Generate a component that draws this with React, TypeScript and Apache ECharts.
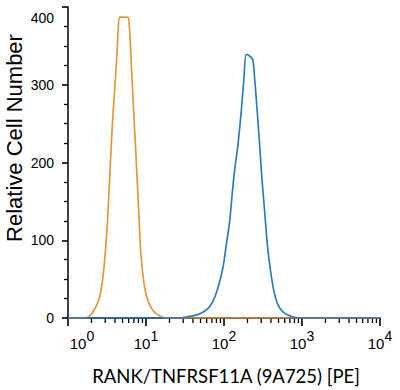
import React, { useEffect, useRef } from "react";
import * as echarts from "echarts";

// Orange histogram: [fluorescence intensity, relative cell number]
const orangeX = [1, 1.61, 1.86, 2.16, 2.51, 2.76, 2.99, 3.21, 3.37, 3.54, 3.72, 3.98, 4.23, 4.44, 4.62, 5.79, 6.1, 6.4, 6.71, 7.06, 7.43, 7.8, 8.18, 8.61, 9.51, 10.5, 12.2, 14.8, 18.9, 100, 10000];
const orangeY = [0, 0, 2, 10, 25, 47, 81, 124, 167, 210, 252, 295, 338, 377, 387, 387, 377, 338, 295, 252, 210, 167, 124, 81, 42, 23, 10, 3, 0, 0, 0];

// Blue histogram
const blueX = [1, 25, 36, 41.7, 50.8, 61.9, 71.8, 83.2, 96.6, 107, 118, 127, 136, 151, 166, 180, 193, 213, 234, 247, 267, 286, 306, 332, 360, 396, 438, 492, 570, 695, 807, 933, 10000];
const blueY = [0, 0, 2, 3, 6, 12, 21, 38, 64, 94, 124, 158, 188, 223, 265, 308, 339, 337, 332, 308, 265, 223, 180, 137, 94, 60, 34, 17, 8, 3, 1, 0, 0];

// Log-axis minor tick values
const minorTickValues = [2, 3, 4, 5, 6, 7, 8, 9, 20, 30, 40, 50, 60, 70, 80, 90, 200, 300, 400, 500, 600, 700, 800, 900, 2000, 3000, 4000, 5000, 6000, 7000, 8000, 9000];

const yTicks = [0, 100, 200, 300, 400];

const xTitle = "RANK/TNFRSF11A (9A725) [PE]";
const yTitle = "Relative Cell Number";

const zip = (xs: number[], ys: number[]) => xs.map((x, i) => [x, ys[i]]);

export default function App() {
  const ref = useRef<HTMLDivElement>(null);
  useEffect(() => {
    if (!ref.current) return;
    const chart = echarts.init(ref.current, undefined, { renderer: "svg" });
    const font = "'Liberation Sans', Arial, sans-serif";
    chart.setOption({
      animation: false,
      backgroundColor: "#ffffff",
      grid: { left: 68, right: 20, top: 7, bottom: 72 },
      xAxis: {
        type: "log",
        min: 1,
        max: 10000,
        axisLine: { show: true, lineStyle: { color: "#000", width: 1.5 } },
        axisTick: { show: true, length: 8, lineStyle: { color: "#000", width: 1.6 } },
        splitLine: { show: false },
        axisLabel: {
          margin: 10,
          color: "#000",
          formatter: (v: number) => {
            const e = Math.round(Math.log10(v));
            return e === 0 ? `{b0|10}{s|${e}}` : `{b|10}{s|${e}}`;
          },
          rich: {
            b: { fontSize: 15, fontFamily: font, color: "#000", padding: [8, 0, 0, 0] },
            b0: { fontSize: 15, fontFamily: font, color: "#000", padding: [8, 0, 0, 28] },
            s: { fontSize: 14, fontFamily: font, color: "#000", padding: [0, 0, 8, 0] },
          },
        },
      },
      yAxis: {
        type: "value",
        min: 0,
        max: 400,
        interval: 100,
        axisLine: { show: true, lineStyle: { color: "#000", width: 1.5 } },
        axisTick: { show: true, length: 6, lineStyle: { color: "#000", width: 1.6 } },
        minorTick: { show: true, splitNumber: 4, length: 4, lineStyle: { color: "#000", width: 1.3 } },
        splitLine: { show: false },
        axisLabel: {
          margin: 14,
          color: "#000",
          fontSize: 14,
          fontFamily: font,
          formatter: (v: number) => (v === yTicks[yTicks.length - 1] ? `{t|${v}}` : `${v}`),
          rich: {
            t: { fontSize: 14, fontFamily: font, color: "#000", padding: [22, 0, 0, 0] },
          },
        },
      },
      graphic: [
        {
          type: "text",
          x: 14,
          y: 138,
          rotation: Math.PI / 2,
          style: {
            text: yTitle,
            fontSize: 22,
            fontFamily: font,
            fill: "#000",
            align: "center",
            verticalAlign: "middle",
          },
        },
        {
          type: "text",
          x: 226,
          y: 376,
          style: {
            text: xTitle,
            fontSize: 18.5,
            fontFamily: "Lato, 'Open Sans', sans-serif",
            fill: "#000",
            align: "center",
            verticalAlign: "middle",
          },
        },
      ],
      series: [
        {
          type: "custom",
          clip: false,
          data: minorTickValues.map((v) => [v, 0]),
          renderItem: (params: any, api: any) => {
            const p = api.coord([api.value(0), api.value(1)]);
            return {
              type: "line",
              shape: { x1: p[0], y1: p[1], x2: p[0], y2: p[1] + 5 },
              style: { stroke: "#000", lineWidth: 1.3 },
            };
          },
          z: 1,
        },
        {
          type: "line",
          data: zip(orangeX, orangeY),
          showSymbol: false,
          smooth: 0.3,
          lineStyle: { color: "#e3983a", width: 1.7 },
          z: 3,
        },
        {
          type: "line",
          data: zip(blueX, blueY),
          showSymbol: false,
          smooth: 0.3,
          lineStyle: { color: "#2c7dbf", width: 1.7 },
          z: 4,
        },
      ],
    });
    return () => chart.dispose();
  }, []);
  return <div ref={ref} style={{ position: "fixed", left: 0, top: 0, width: 400, height: 390 }} />;
}
